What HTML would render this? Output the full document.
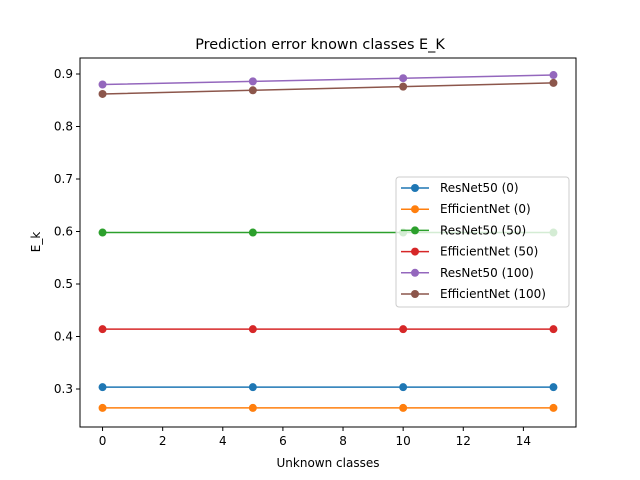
<!DOCTYPE html>
<html><head><meta charset="utf-8"><style>body{margin:0;background:#fff}svg{display:block;font-family:"DejaVu Sans","Liberation Sans",sans-serif}</style></head>
<body>
<svg id="c" width="640" height="480"></svg>
<script>
const xValues=[0,5,10,15];
const seriesNames=["ResNet50 (0)","EfficientNet (0)","ResNet50 (50)","EfficientNet (50)","ResNet50 (100)","EfficientNet (100)"];
const resnet0=[0.3035,0.3035,0.3035,0.3035];
const efficient0=[0.264,0.264,0.264,0.264];
const resnet50=[0.598,0.598,0.598,0.598];
const efficient50=[0.414,0.414,0.414,0.414];
const resnet100=[0.880,0.886,0.892,0.898];
const efficient100=[0.862,0.869,0.876,0.883];
const xTicks=[0,2,4,6,8,10,12,14];
const yTicks=[0.3,0.4,0.5,0.6,0.7,0.8,0.9];
const colors=["#1f77b4","#ff7f0e","#2ca02c","#d62728","#9467bd","#8c564b"];
const allSeries=[resnet0,efficient0,resnet50,efficient50,resnet100,efficient100];
const L=80,R=576,T=58,B=427,x0=-0.75,x1=15.75,y0=0.2276,y1=0.9305;
const X=v=>L+(v-x0)/(x1-x0)*(R-L), Y=v=>B-(v-y0)/(y1-y0)*(B-T);
const svg=document.getElementById('c'),NS="http://www.w3.org/2000/svg";
function mk(t,a,p){const e=document.createElementNS(NS,t);for(const k in a)e.setAttribute(k,a[k]);(p||svg).appendChild(e);return e;}
let t=mk('text',{x:320,y:49,'text-anchor':'middle','font-size':14.4});t.textContent="Prediction error known classes E_K";


xTicks.forEach(v=>{mk('line',{x1:X(v),x2:X(v),y1:B,y2:B+4,stroke:'#000'});const s=mk('text',{x:X(v),y:B+18,'text-anchor':'middle','font-size':12});s.textContent=v;

});
yTicks.forEach(v=>{mk('line',{x1:L-4,x2:L,y1:Y(v),y2:Y(v),stroke:'#000'});const s=mk('text',{x:L-7,y:Y(v)+4,'text-anchor':'end','font-size':12});s.textContent=v.toFixed(1);

});
t=mk('text',{x:328,y:467,'text-anchor':'middle','font-size':12});t.textContent="Unknown classes";


t=mk('text',{x:40,y:242,'text-anchor':'middle','font-size':12,transform:'rotate(-90 40 242)'});t.textContent="E_k";


allSeries.forEach((s,i)=>{const g=mk('g',{});


mk('polyline',{points:s.map((v,j)=>X(xValues[j])+','+Y(v)).join(' '),fill:'none',stroke:colors[i],'stroke-width':1.5},g);
s.forEach((v,j)=>mk('circle',{cx:X(xValues[j]),cy:Y(v),r:4,fill:colors[i]},g));});
mk('rect',{x:L,y:T,width:R-L,height:B-T,fill:'none',stroke:'#000','stroke-width':1});
const lg=mk('g',{});


mk('rect',{x:396,y:177,width:173,height:130,rx:3,fill:'#fff','fill-opacity':0.8,stroke:'#ccc'},lg);
seriesNames.forEach((n,i)=>{const y=188+i*21.2;mk('line',{x1:401,x2:429,y1:y,y2:y,stroke:colors[i],'stroke-width':1.5},lg);mk('circle',{cx:415,cy:y,r:4,fill:colors[i]},lg);
const s=mk('text',{x:440,y:y+4,'font-size':12},lg);s.textContent=n;

});
</script>
</body></html>
